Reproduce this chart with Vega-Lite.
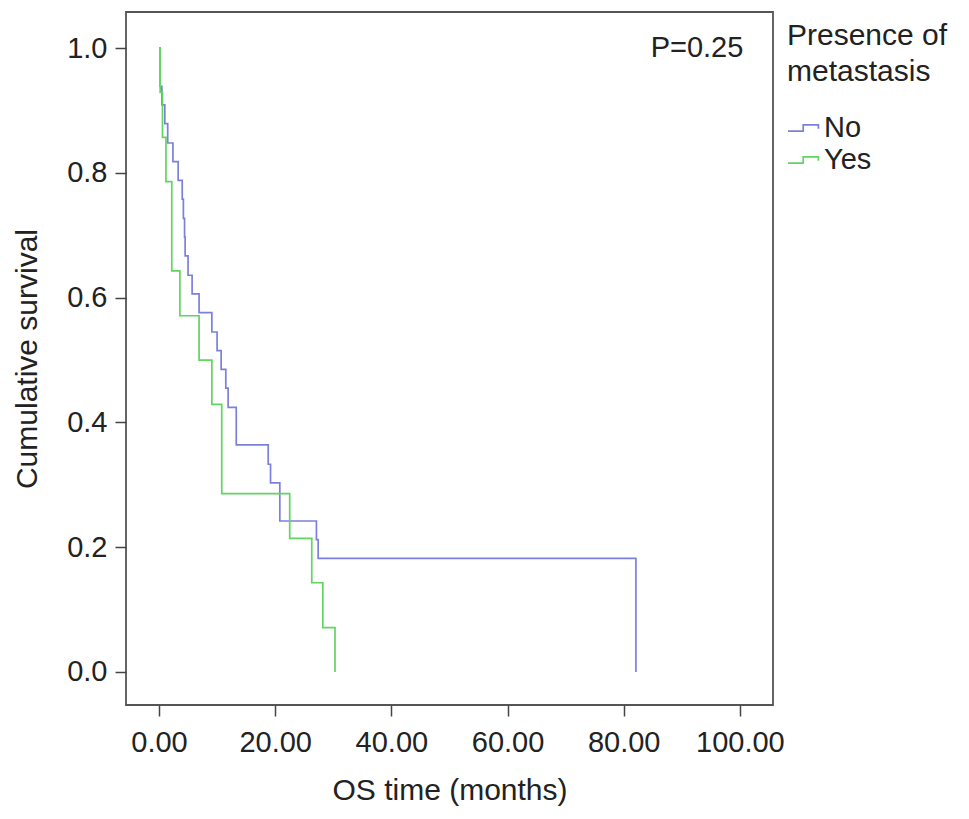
{
  "$schema": "https://vega.github.io/schema/vega-lite/v6.json",
  "autosize": {"type": "none"},
  "width": 647,
  "height": 693,
  "padding": {"left": 126, "top": 12, "right": 196, "bottom": 114},
  "background": "white",
  "config": {
    "font": "Liberation Sans",
    "view": {"stroke": "#555555", "strokeWidth": 1.8},
    "axis": {
      "domain": false,
      "grid": false,
      "tickColor": "#444444",
      "tickSize": 11,
      "tickWidth": 1.5,
      "labelFontSize": 29,
      "labelColor": "#222222",
      "titleFontSize": 30,
      "titleFontWeight": "normal",
      "titleColor": "#222222",
      "labelPadding": 8
    }
  },
  "datasets": {
    "km": [
      {"group": "No", "t": 0, "s": 1.0},
      {"group": "No", "t": 0.2, "s": 0.939},
      {"group": "No", "t": 0.5, "s": 0.909},
      {"group": "No", "t": 1.0, "s": 0.879},
      {"group": "No", "t": 1.5, "s": 0.848},
      {"group": "No", "t": 2.4, "s": 0.818},
      {"group": "No", "t": 3.3, "s": 0.788},
      {"group": "No", "t": 4.0, "s": 0.758},
      {"group": "No", "t": 4.2, "s": 0.727},
      {"group": "No", "t": 4.4, "s": 0.697},
      {"group": "No", "t": 4.5, "s": 0.667},
      {"group": "No", "t": 5.0, "s": 0.636},
      {"group": "No", "t": 5.7, "s": 0.606},
      {"group": "No", "t": 6.9, "s": 0.576},
      {"group": "No", "t": 9.1, "s": 0.545},
      {"group": "No", "t": 10.0, "s": 0.515},
      {"group": "No", "t": 10.7, "s": 0.485},
      {"group": "No", "t": 11.5, "s": 0.455},
      {"group": "No", "t": 11.9, "s": 0.424},
      {"group": "No", "t": 13.3, "s": 0.364},
      {"group": "No", "t": 18.8, "s": 0.333},
      {"group": "No", "t": 19.2, "s": 0.303},
      {"group": "No", "t": 20.8, "s": 0.242},
      {"group": "No", "t": 27.1, "s": 0.212},
      {"group": "No", "t": 27.4, "s": 0.182},
      {"group": "No", "t": 82.1, "s": 0.0},
      {"group": "Yes", "t": 0, "s": 1.0},
      {"group": "Yes", "t": 0.2, "s": 0.929},
      {"group": "Yes", "t": 0.6, "s": 0.857},
      {"group": "Yes", "t": 1.2, "s": 0.786},
      {"group": "Yes", "t": 2.2, "s": 0.643},
      {"group": "Yes", "t": 3.6, "s": 0.571},
      {"group": "Yes", "t": 6.9, "s": 0.5},
      {"group": "Yes", "t": 9.1, "s": 0.429},
      {"group": "Yes", "t": 10.8, "s": 0.286},
      {"group": "Yes", "t": 22.5, "s": 0.214},
      {"group": "Yes", "t": 26.3, "s": 0.143},
      {"group": "Yes", "t": 28.2, "s": 0.071},
      {"group": "Yes", "t": 30.3, "s": 0.0}
    ],
    "ptext": [
      {"t": 100.6, "s": 1.0, "label": "P=0.25"}
    ]
  },
  "layer": [
    {
      "data": {"name": "km"},
      "mark": {"type": "line", "interpolate": "step-after", "strokeWidth": 1.7},
      "encoding": {
        "x": {
          "field": "t",
          "type": "quantitative",
          "scale": {"domain": [-5.68, 105.7], "nice": false, "zero": false},
          "axis": {"values": [0, 20, 40, 60, 80, 100], "format": ".2f", "title": "OS time (months)", "titlePadding": 18, "labelPadding": 12}
        },
        "y": {
          "field": "s",
          "type": "quantitative",
          "scale": {"domain": [-0.053, 1.058], "nice": false, "zero": false},
          "axis": {"values": [0, 0.2, 0.4, 0.6, 0.8, 1.0], "format": ".1f", "title": "Cumulative survival", "titlePadding": 24}
        },
        "color": {
          "field": "group",
          "type": "nominal",
          "scale": {"domain": ["No", "Yes"], "range": ["#7c80dc", "#62d462"]},
          "legend": {
            "title": ["Presence of", "metastasis"],
            "orient": "none",
            "legendX": 661,
            "legendY": 9,
            "titleFontSize": 30,
            "titleFontWeight": "normal",
            "titleColor": "#222222",
            "titleLineHeight": 36,
            "titlePadding": 24,
            "labelFontSize": 29,
            "labelColor": "#222222",
            "labelOffset": 3,
            "symbolType": "M-1,0.2H-0.05V-0.2H0.9V0.05",
            "symbolSize": 1024,
            "symbolStrokeWidth": 1.7,
            "rowPadding": 0
          }
        },
        "order": {"field": "t", "type": "quantitative"}
      }
    },
    {
      "data": {"name": "ptext"},
      "mark": {"type": "text", "align": "right", "baseline": "middle", "fontSize": 29, "color": "#222222"},
      "encoding": {
        "x": {"field": "t", "type": "quantitative"},
        "y": {"field": "s", "type": "quantitative"},
        "text": {"field": "label"}
      }
    }
  ]
}
